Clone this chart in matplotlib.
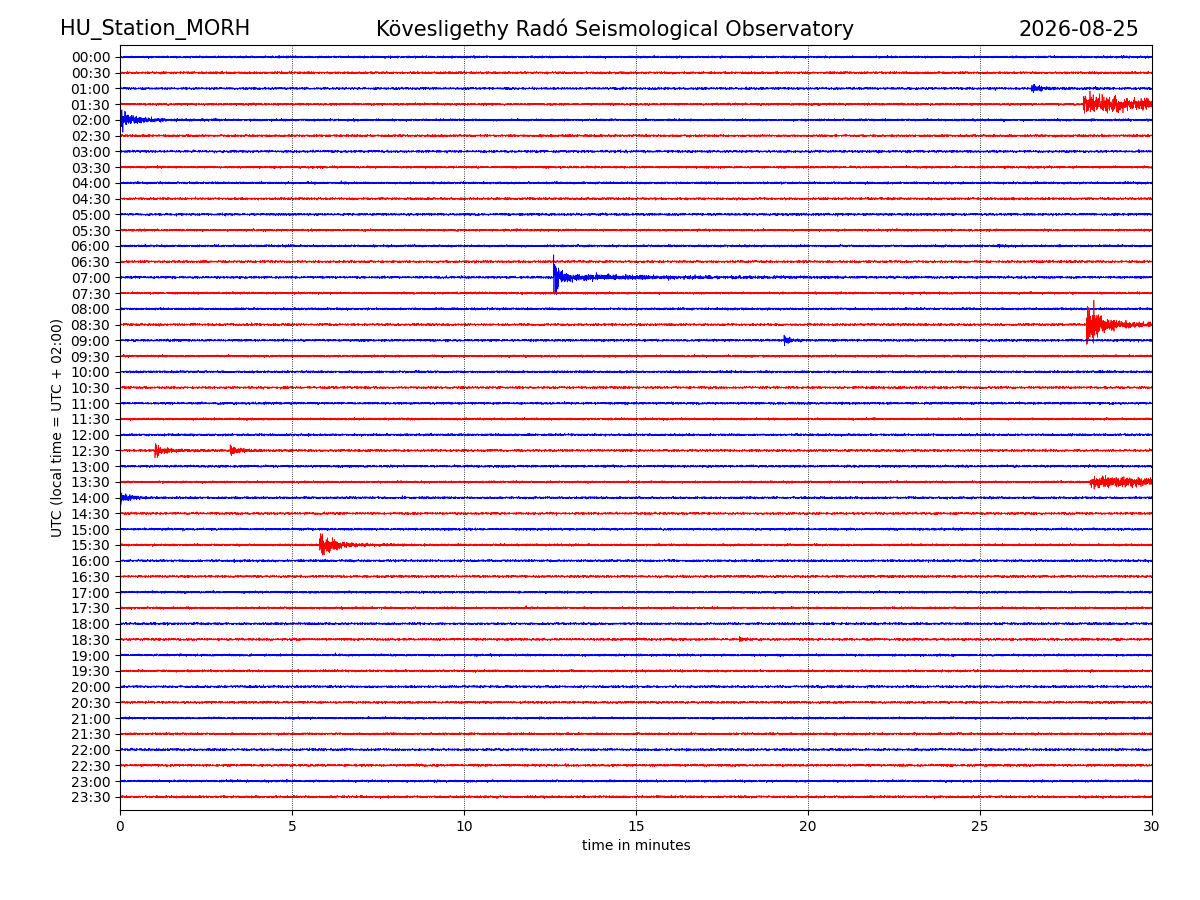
import numpy as np
import matplotlib
matplotlib.use("Agg")
import matplotlib.pyplot as plt

station = "HU_Station_MORH"
title = "Kövesligethy Radó Seismological Observatory"
date = "2026-08-25"
row_labels = [f"{h:02d}:{m:02d}" for h in range(24) for m in (0, 30)]
colors = ["blue", "red"]

# events: row, onset minute, peak amplitude (row units), decay (min), coda level, coda decay (min)
ev_rows = [2, 3, 4, 14, 17, 18, 25, 25, 27, 28, 31, 37, 12]
ev_start = [26.5, 28.0, 0.0, 12.6, 28.1, 19.3, 1.0, 3.2, 28.2, 0.0, 5.8, 18.0, 25.5]
ev_amp = [0.25, 0.45, 0.4, 1.2, 1.3, 0.25, 0.4, 0.25, 0.3, 0.3, 0.7, 0.15, 0.1]
ev_dur = [0.3, 2.5, 0.4, 0.15, 0.3, 0.15, 0.15, 0.2, 3.0, 0.3, 0.3, 0.15, 0.2]
ev_coda = [0.2, 0.2, 0.3, 0.18, 0.2, 0.2, 0.3, 0.3, 0.2, 0.2, 0.25, 0.2, 0.2]
ev_coda_dur = [2.0, 20.0, 2.0, 4.0, 2.5, 1.0, 1.5, 1.5, 20.0, 1.0, 1.5, 1.0, 1.0]
noise_level = 0.03

rng = np.random.default_rng(7)
t = np.linspace(0, 30, 9000)
fig = plt.figure(figsize=(12, 9), dpi=100)
ax = fig.add_axes([0.1, 0.1, 0.86, 0.85])
n = len(row_labels)
for i in range(n):
    y = rng.normal(0, noise_level, t.size)
    for r, s, a, d, c, cd in zip(ev_rows, ev_start, ev_amp, ev_dur, ev_coda, ev_coda_dur):
        if r == i:
            dt = t - s
            env = np.where(dt >= 0, np.exp(-dt / d) + c * np.exp(-np.clip(dt, 0, None) / cd), 0.0)
            y += a * 0.5 * env * rng.normal(0, 1, t.size)
    ax.plot(t, i - y, color=colors[i % 2], lw=0.5)

ax.set_xlim(0, 30)
ax.set_ylim(47.84, -0.76)
ax.set_yticks(range(n))
ax.set_yticklabels(row_labels)
ax.set_xticks(range(0, 31, 5))
for x in range(5, 30, 5):
    ax.axvline(x, color="black", ls=":", lw=0.6)
ax.set_xlabel("time in minutes")
ax.set_ylabel("UTC (local time = UTC + 02:00)")
fig.text(0.05, 0.967, station, fontsize=15, va="center", ha="left")
fig.text(0.5125, 0.967, title, fontsize=15, va="center", ha="center")
fig.text(0.95, 0.967, date, fontsize=15, va="center", ha="right")
fig.savefig("out.png")
